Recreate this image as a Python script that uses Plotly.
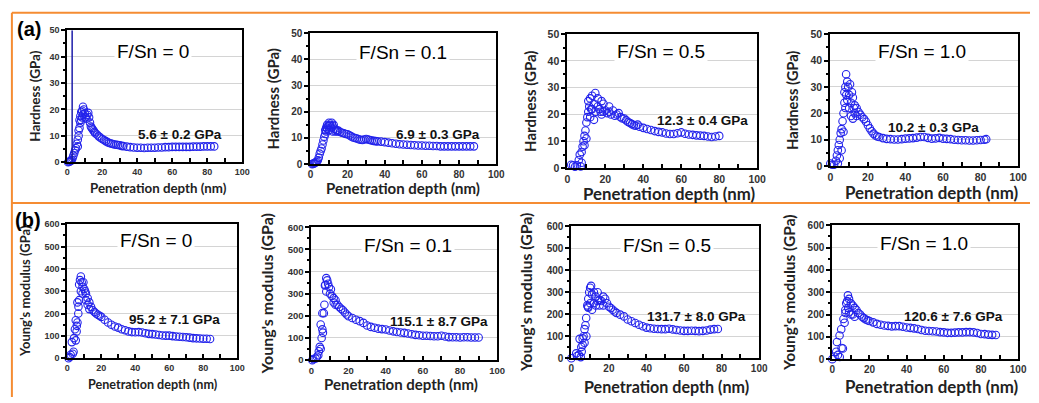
import plotly.graph_objects as go

# ---------------- data ----------------
# (a) Hardness (GPa) vs penetration depth (nm)
h0_x = [0.5,1,1.5,2,2.5,3,3.5,4,4.5,5,5.5,6,6,6.5,6.5,7,7,7.5,7.5,8,8,8.5,8.5,9,9,9.5,10,10.5,11,11.5,12,12.5,13,13.5,14,14.5,15,15.5,16,17,18,19,20,21,22,23,24,25,26,27,28,29,30,31,32,34,36,38,40,42,44,46,48,50,52,54,56,58,60,62,64,66,68,70,72,74,76,78,80,82,84]
h0_y = [0,0.2,0.3,0.5,0.8,1.5,2.5,3.5,4.5,5.3,7,8.5,6,10,12,13,16,15,17.5,16,19,19.5,17,21,18,20,18.5,17,16.5,18,18.7,17,15,13.5,13,12.5,12,11.5,11,10.5,9.8,9.3,8.8,8.4,8,7.6,7.3,7.1,6.9,6.7,6.6,6.5,6.4,6.2,6.1,5.9,5.7,5.6,5.5,5.5,5.4,5.5,5.5,5.5,5.6,5.6,5.7,5.7,5.8,5.8,5.8,5.8,5.8,5.8,5.9,5.9,5.9,6.0,6.0,6.0,6.0]

h1_x = [1,1.5,2,2.5,3,3.5,4,4.5,5,5.5,6,6.5,7,7.5,8,8,8.5,8.5,9,9,9.5,10,10,10.5,11,11.5,12,12,12.5,13,13.5,14,14.5,15,16,17,18,19,20,21,22,23,24,25,26,27,28,29,30,31,32,33,34,35,36,38,40,42,44,46,48,50,52,54,56,58,60,62,64,66,68,70,72,74,76,78,80,82,84,86,88]
h1_y = [0,0.2,0.3,0.5,0.8,1,1.5,2.5,4,5,6,7.5,9,10.5,11.5,13,12.5,14,13.5,15,14.5,15.8,13,15,14,15.8,14.5,12.5,15,13.5,12.5,13,12.5,12.8,12.3,12,11.8,11.5,11.4,11,10.6,10.2,10,9.8,9.5,9.3,9.2,9.4,9.6,9.4,9.2,9,8.9,8.8,8.7,8.6,8.4,8.2,8,7.8,7.6,7.5,7.4,7.3,7.2,7.1,7.1,7,7,6.9,6.9,6.8,6.8,6.8,6.8,6.8,6.8,6.8,6.8,6.8,6.8]

h5_x = [2,3,4,5,6,6.5,7,7.5,7.5,8,8.5,9,9,9.5,10,10,10.5,11,11,11.5,12,12,12.5,13,13,14,14,14.7,15,16,16,17,17.5,18,18,19,19,20,21,22,22,23,24,25,26,27,28,29,30,31,32,33,34,35,36,37,38,40,42,44,46,48,50,52,54,56,58,60,62,64,66,68,70,72,74,76,78,80]
h5_y = [1.2,1,0.5,1,3,5,0.6,2,6,8,10,12,8.5,14,17,11,19,21,25,23,26,19,22,22,27,24,18,28,21,23,26,22,21,25,20,24,21,21.5,20.5,21,23,20,21.5,19.5,20,20.5,19,18.5,18.5,17.8,17.2,16.8,16.4,16,15.8,16.2,15.4,15,14.6,14.2,13.8,13.5,13.3,12.9,12.7,12.7,13,13.3,12.8,12.5,12.4,12.2,12.1,12,11.8,11.6,11.8,12,11.9]

h10_x = [0,1,2,3,3.5,4,4,4.5,5,5,5.5,6,6,6.5,7,7,7.5,7.5,8,8,8.4,8.5,9,9,9.5,10,10,10.5,11,11,11.5,12,12,12.5,13,13,14,14,15,16,17,18,19,20,21,22,23,24,25,26,28,30,32,34,36,38,40,42,44,46,48,50,52,54,56,58,60,62,64,66,68,70,72,74,76,78,80,82,83]
h10_y = [1,0.5,0.5,2,4,6,1,8,10,3,12.5,14,6,17,20,13,24,28,30,22,34.8,27,32,25,30,27,22,31,24,19,28,26,18,22,23,20,22,19,20.5,19.5,18.5,17.8,16.8,15.5,14.3,13.2,12.3,11.6,11.2,11,10.6,10.3,10.2,10.1,10.1,10.2,10.4,10.5,10.6,10.8,11,11,10.7,10.4,10.5,10.7,10.4,10.3,10.2,10,9.9,9.8,9.8,9.7,9.7,9.8,9.9,10,10.2]

# (b) Young's modulus (GPa) vs penetration depth (nm)
e0_x = [0.8,1.5,2,2.7,3.2,3.7,4,4.5,5,5,5.6,5.5,6,6,6.6,6.5,7,7,7.5,8,8,8.5,9,9,9.5,10,10.5,11,11,12,12,13,13,14,15,16,17,18,19,20,22,24,26,28,30,32,34,36,38,40,42,44,46,48,50,52,54,56,58,60,62,64,66,68,70,72,74,76,78,80,82,84]
e0_y = [0,5,15,72,20,29,90,130,170,80,145,120,250,160,231,200,330,260,350,366,300,340,320,290,340,310,300,290,260,270,240,250,220,230,215,207,200,195,190,185,172,160,150,142,137,130,125,120,117,116,117,115,112,109,108,106,104,102,101,101,99,97,96,95,94,92,90,89,88,87,87,86]

e1_x = [0.5,1,2.3,3,3.7,4,4.5,5,5,5.5,5.9,6.2,5.9,6.7,7,7.3,7.5,8,8,8.5,9,9.5,10,10.5,11,12,12,13,13,14,15,16,17,18,19,20,22,24,26,28,30,32,34,36,38,40,42,44,46,48,50,52,54,56,58,60,62,64,66,68,70,72,74,76,78,80,82,84,86,88,90]
e1_y = [0,5,7,15,22,40,60,51,161,100,139,124,212,212,250,337,340,370,310,360,345,330,300,320,290,280,260,270,250,250,240,232,225,215,206,198,190,182,176,168,156,150,146,142,140,138,134,130,127,125,123,120,117,114,112,110,110,109,108,108,110,107,104,103,103,102,103,103,102,102,102]

e5_x = [0,2.6,3,4,4.4,5,5.3,5.5,6,6,6.5,7,7,7.5,7.9,8,8.5,8.8,9,9,9.5,10,10,10.5,11,11,12,12,13,13,14,14,15,15,16,17,17,18,19,20,21,22,23,24,26,28,30,32,34,36,38,40,42,44,46,48,50,52,54,56,58,60,62,64,66,68,70,72,74,76,78]
e5_y = [0,22,10,15,88,5,51,30,60,90,100,132,70,150,183,100,240,234,270,230,300,320,250,329,290,220,300,250,280,240,300,260,265,240,260,280,240,270,250,234,228,220,212,206,198,190,176,168,160,152,145,139,136,134,133,132,132,134,131,128,126,124,124,125,124,123,124,126,130,132,133,132]

e10_x = [0,1.2,2.1,2.5,3,3.9,4,4.8,5,5.7,6,6.6,7,7.1,7.5,8,8.4,8.5,9,9,10,10,11,11,12,12,13,14,15,16,17,18,19,20,22,24,26,28,30,32,34,36,38,40,42,44,46,48,50,52,54,56,58,60,62,64,66,68,70,72,74,76,78,80,82,84,86,88]
e10_y = [0,12,33,77,19,106,10,134,50,48,180,163,220,207,250,260,286,230,270,210,250,200,240,200,230,190,220,207,200,190,184,178,174,171,165,158,154,151,149,147,148,148,145,142,140,138,135,131,127,126,125,124,121,120,118,118,119,120,120,121,121,120,117,113,112,110,109,108]

# labels
comp_labels = ["F/Sn = 0", "F/Sn = 0.1", "F/Sn = 0.5", "F/Sn = 1.0"]
h_values = ["5.6 ± 0.2 GPa", "6.9 ± 0.3 GPa", "12.3 ± 0.4 GPa", "10.2 ± 0.3 GPa"]
e_values = ["95.2 ± 7.1 GPa", "115.1 ± 8.7 GPa", "131.7 ± 8.0 GPa", "120.6 ± 7.6 GPa"]
x_title = "Penetration depth (nm)"
h_title = "Hardness (GPa)"
e_title = "Young's modulus (GPa)"
x_ticks = [0, 20, 40, 60, 80, 100]

series = [(h0_x, h0_y), (h1_x, h1_y), (h5_x, h5_y), (h10_x, h10_y),
          (e0_x, e0_y), (e1_x, e1_y), (e5_x, e5_y), (e10_x, e10_y)]

# ---------------- layout geometry (pixels) ----------------
W, H = 1039, 403
boxes = [(65, 242, 25, 161), (311, 499, 28, 163), (571, 763, 29, 167), (837, 1027, 29, 165),
         (65, 237, 225, 363), (312, 500, 228, 365), (575, 765, 227, 363), (839, 1027, 226, 364)]
ytitle_x = [33, 273, 533, 798, 22, 267, 528, 795]
ytitle_fs = [13.5, 15, 15, 14.7, 13, 16, 15.8, 15.5]
xtitle_pos = [(157, 188), (405, 188), (674, 193), (940, 192), (151, 390), (403, 390), (671, 392), (940, 392)]
xtitle_fs = [13.3, 15, 16.8, 16.9, 12.6, 15, 16.1, 16.9]
tick_fs = [9, 10, 10.5, 10.5, 9, 9.5, 10, 10]
label_pos = [(152, 47), (405, 48), (666, 47), (930, 47), (155, 242), (410, 247), (672, 247), (932, 245)]
value_pos = [(179, 132), (440, 132), (708, 118), (941, 125), (174, 323), (441, 325), (702, 320), (962, 320)]

def px(x):
    return x / W

def py(y):
    return 1 - y / H

FONT = "Liberation Sans, Arial, sans-serif"
TFONT = "Lato, Liberation Sans, sans-serif"
BLUE = "rgb(35,35,235)"

fig = go.Figure()
annotations = []
for i, (xs, ys) in enumerate(series):
    n = i + 1
    xa = "x" if n == 1 else f"x{n}"
    ya = "y" if n == 1 else f"y{n}"
    fig.add_trace(go.Scatter(
        x=xs, y=ys, mode="markers", xaxis=xa, yaxis=ya, cliponaxis=False,
        marker=dict(symbol="circle-open", size=7.5, color=BLUE, line=dict(width=1.1)),
        showlegend=False, hoverinfo="x+y"))
    x0, x1, yt, yb = boxes[i]
    is_h = i < 4
    xkey = "xaxis" if n == 1 else f"xaxis{n}"
    ykey = "yaxis" if n == 1 else f"yaxis{n}"
    fig.layout[xkey] = dict(
        domain=[px(x0), px(x1)], anchor=ya, range=[0, 100], tickvals=x_ticks,
        ticks="inside", ticklen=4, tickwidth=1.5, tickcolor="black",
        minor=dict(dtick=10, ticks="inside", ticklen=4, tickwidth=1.5, tickcolor="black"),
        showline=True, linewidth=2, linecolor="black", mirror=True,
        showgrid=False, zeroline=False,
        tickfont=dict(family=FONT, size=tick_fs[i], color="#333", weight="bold"))
    fig.layout[ykey] = dict(
        domain=[py(yb), py(yt)], anchor=xa,
        range=[0, 50] if is_h else [0, 600], dtick=10 if is_h else 100,
        ticks="outside", ticklen=4, tickwidth=1.5, tickcolor="black",
        minor=dict(dtick=5 if is_h else 50, ticks="outside", ticklen=2, tickwidth=1.5, tickcolor="black"),
        showline=True, linewidth=2, linecolor="black", mirror=True,
        showgrid=True, gridcolor="#d4d4d4", gridwidth=1, zeroline=False,
        tickfont=dict(family=FONT, size=tick_fs[i], color="#333", weight="bold"))
    annotations.append(dict(
        x=px(ytitle_x[i]), y=py((yt + yb) / 2), xref="paper", yref="paper",
        text=h_title if is_h else e_title, textangle=-90, showarrow=False,
        font=dict(family=TFONT, size=ytitle_fs[i], color="#222", weight="bold"),
        xanchor="center", yanchor="middle"))
    annotations.append(dict(
        x=px(xtitle_pos[i][0]), y=py(xtitle_pos[i][1]), xref="paper", yref="paper",
        text=x_title, showarrow=False,
        font=dict(family=TFONT, size=xtitle_fs[i], color="#222", weight="bold"),
        xanchor="center", yanchor="middle"))
    annotations.append(dict(
        x=px(label_pos[i][0]), y=py(label_pos[i][1]), xref="paper", yref="paper",
        text=comp_labels[i % 4], showarrow=False, bgcolor="white", borderpad=2,
        font=dict(family=FONT, size=19, color="black"),
        xanchor="center", yanchor="middle"))
    annotations.append(dict(
        x=px(value_pos[i][0]), y=py(value_pos[i][1]), xref="paper", yref="paper",
        text=(h_values if is_h else e_values)[i % 4], showarrow=False,
        font=dict(family=FONT, size=13.5, color="#111", weight="bold"),
        xanchor="center", yanchor="middle"))

annotations.append(dict(x=px(26), y=py(24), xref="paper", yref="paper", text="(a)", showarrow=False,
                        font=dict(family=FONT, size=20, color="black", weight="bold"),
                        xanchor="center", yanchor="middle"))
annotations.append(dict(x=px(25), y=py(221), xref="paper", yref="paper", text="(b)", showarrow=False,
                        font=dict(family=FONT, size=20, color="black", weight="bold"),
                        xanchor="center", yanchor="middle"))

ORANGE = "rgb(245,140,50)"
shapes = [
    dict(type="line", xref="paper", yref="paper", x0=px(9), x1=1, y0=py(7), y1=py(7),
         line=dict(color=ORANGE, width=2)),
    dict(type="line", xref="paper", yref="paper", x0=px(9), x1=1, y0=py(203), y1=py(203),
         line=dict(color=ORANGE, width=2)),
    dict(type="line", xref="paper", yref="paper", x0=px(9), x1=px(9), y0=py(7), y1=0,
         line=dict(color=ORANGE, width=2)),
    dict(type="line", xref="x", yref="y", x0=2.8, x1=2.8, y0=0, y1=50,
         line=dict(color="rgb(30,30,170)", width=1.5)),
]

fig.update_layout(
    width=W, height=H, margin=dict(l=0, r=0, t=0, b=0),
    paper_bgcolor="white", plot_bgcolor="white",
    annotations=annotations, shapes=shapes, showlegend=False)

fig.write_html("out.html")
